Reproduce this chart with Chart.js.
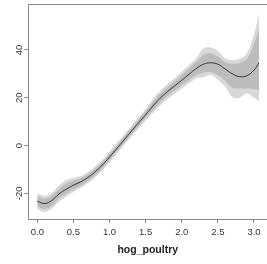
<!DOCTYPE html>
<html>
<head>
<meta charset="utf-8">
<script src="https://cdn.jsdelivr.net/npm/chart.js@4/dist/chart.umd.min.js"></script>
<style>
  html, body { margin: 0; padding: 0; background: #fff; }
  #wrap { width: 267px; height: 264px; }
</style>
</head>
<body>
<div id="wrap"><canvas id="smoothChart" width="267" height="264"></canvas></div>
<script>
// hog_poultry values and the fitted smooth with its two bands
const hogPoultry = [0, 0.1, 0.2, 0.3, 0.4, 0.5, 0.6, 0.7, 0.8, 0.9, 1.0, 1.1, 1.2, 1.3, 1.4, 1.5,
  1.6, 1.7, 1.8, 1.9, 2.0, 2.1, 2.2, 2.3, 2.4, 2.5, 2.6, 2.7, 2.8, 2.9, 3.0, 3.07];
const fit = [-23.3, -24.3, -23.0, -20.3, -18.3, -16.6, -15.2, -13.4, -11.0, -8.2, -4.8, -1.3, 2.3, 5.9, 9.4, 12.9,
  16.5, 19.8, 22.5, 24.9, 27.3, 29.8, 32.2, 34.0, 34.6, 34.0, 32.0, 30.0, 28.8, 29.2, 31.5, 34.6];
const innerHi = [-21.2, -22.2, -21.0, -18.2, -15.9, -14.7, -13.7, -12.0, -9.7, -6.9, -3.5, 0.0, 3.6, 7.2, 10.8, 14.3,
  18.2, 21.6, 24.3, 26.8, 29.5, 32.2, 35.0, 37.8, 38.6, 37.2, 34.8, 34.2, 34.5, 36.2, 42.5, 48.4];
const innerLo = [-25.4, -26.6, -25.2, -22.2, -20.2, -18.4, -16.8, -14.9, -12.4, -9.5, -6.1, -2.6, 1.0, 4.6, 8.0, 11.5,
  14.8, 18.0, 20.7, 23.0, 25.1, 27.4, 29.4, 30.4, 30.8, 29.5, 27.0, 24.3, 23.9, 23.8, 23.5, 23.3];
const outerHi = [-20.0, -21.0, -19.8, -16.6, -14.4, -13.6, -12.8, -11.1, -8.8, -6.0, -2.6, 1.0, 4.5, 8.1, 11.8, 15.3,
  19.4, 22.9, 25.6, 28.1, 30.9, 33.6, 36.6, 40.6, 41.0, 39.5, 36.5, 35.8, 36.3, 38.5, 46.5, 55.3];
const outerLo = [-26.7, -27.8, -26.4, -23.5, -21.4, -19.5, -17.7, -15.8, -13.3, -10.4, -7.0, -3.5, 0.1, 3.6, 7.0, 10.5,
  13.6, 16.7, 19.4, 21.7, 23.7, 26.0, 28.0, 28.6, 29.5, 27.5, 24.7, 20.3, 20.0, 21.8, 20.0, 18.4];
const xTicks = [0, 0.5, 1, 1.5, 2, 2.5, 3];
const yTicks = [-20, 0, 20, 40];

const pts = (ys) => hogPoultry.map((x, i) => ({ x: x, y: ys[i] }));

const frameAndLabels = {
  id: 'frameAndLabels',
  afterDraw(chart) {
    const ctx = chart.ctx;
    const area = chart.chartArea;
    const yScale = chart.scales.y;
    ctx.save();
    ctx.strokeStyle = '#888';
    ctx.lineWidth = 1;
    ctx.beginPath();
    ctx.moveTo(area.left, area.top + 0.5);
    ctx.lineTo(chart.width, area.top + 0.5);
    ctx.stroke();
    ctx.fillStyle = '#333';
    ctx.font = '9.5px "Liberation Sans", Arial, sans-serif';
    ctx.textAlign = 'center';
    ctx.textBaseline = 'middle';
    yTicks.forEach(v => {
      const y = yScale.getPixelForValue(v);
      ctx.save();
      ctx.translate(19, y);
      ctx.rotate(-Math.PI / 2);
      ctx.fillText(String(v), 0, 0);
      ctx.restore();
    });
    ctx.restore();
  }
};

const ctx = document.getElementById('smoothChart').getContext('2d');
new Chart(ctx, {
  type: 'line',
  data: {
    datasets: [
      { data: pts(fit), borderColor: '#333', borderWidth: 1, pointRadius: 0, fill: false, tension: 0.4 },
      { data: pts(innerHi), borderWidth: 0, borderColor: 'rgba(0,0,0,0)', pointRadius: 0, fill: '+1', backgroundColor: '#bcbcbc', tension: 0.4 },
      { data: pts(innerLo), borderWidth: 0, borderColor: 'rgba(0,0,0,0)', pointRadius: 0, fill: false, tension: 0.4 },
      { data: pts(outerHi), borderWidth: 0, borderColor: 'rgba(0,0,0,0)', pointRadius: 0, fill: '+1', backgroundColor: '#d8d8d8', tension: 0.4 },
      { data: pts(outerLo), borderWidth: 0, borderColor: 'rgba(0,0,0,0)', pointRadius: 0, fill: false, tension: 0.4 }
    ]
  },
  options: {
    responsive: false,
    animation: false,
    layout: { padding: { top: 4, right: 0, bottom: 0, left: 0 } },
    plugins: { legend: { display: false }, tooltip: { enabled: false } },
    scales: {
      x: {
        type: 'linear',
        min: -0.122,
        max: 3.18,
        afterBuildTicks: (scale) => { scale.ticks = xTicks.map(v => ({ value: v })); },
        afterFit: (scale) => { scale.height = 45; },
        grid: { drawOnChartArea: false, tickLength: 4, color: '#888' },
        border: { color: '#888' },
        ticks: {
          padding: 4,
          color: '#333',
          maxRotation: 0,
          font: { family: '"Liberation Sans", Arial, sans-serif', size: 9.5 },
          callback: (v) => Number(v).toFixed(1)
        },
        title: {
          display: true,
          text: 'hog_poultry',
          color: '#222',
          padding: { top: 0, bottom: 8 },
          font: { family: '"Liberation Sans", Arial, sans-serif', size: 10.5, weight: 'bold' }
        }
      },
      y: {
        type: 'linear',
        min: -30.75,
        max: 59.2,
        afterBuildTicks: (scale) => { scale.ticks = yTicks.map(v => ({ value: v })); },
        afterFit: (scale) => { scale.width = 28.5; },
        grid: { drawOnChartArea: false, tickLength: 4, color: '#888' },
        border: { color: '#888' },
        ticks: { display: false }
      }
    }
  },
  plugins: [frameAndLabels]
});
</script>
</body>
</html>
